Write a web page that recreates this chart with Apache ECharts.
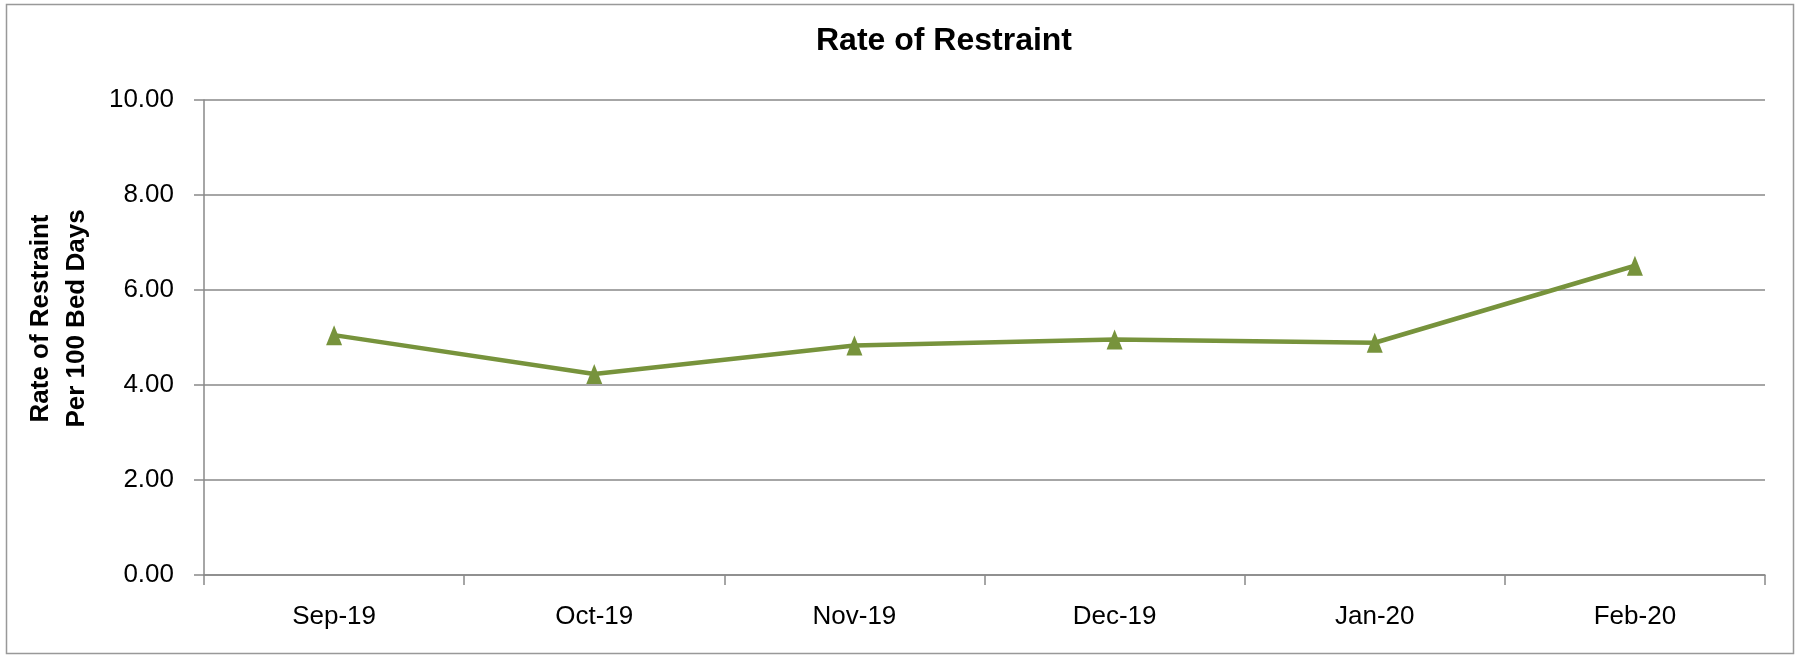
<!DOCTYPE html>
<html>
<head>
<meta charset="utf-8">
<script src="https://cdn.jsdelivr.net/npm/echarts@6/dist/echarts.min.js"></script>
<style>
html,body{margin:0;padding:0;background:#fff;}
#chart{width:1795px;height:655px;}
</style>
</head>
<body>
<div id="chart"></div>
<script>
const categories = ['Sep-19', 'Oct-19', 'Nov-19', 'Dec-19', 'Jan-20', 'Feb-20'];
const rateValues = [5.05, 4.23, 4.83, 4.96, 4.89, 6.51];
const yTicks = { min: 0, max: 10, interval: 2 };

const chart = echarts.init(document.getElementById('chart'));
const font = '"Liberation Sans", Arial, sans-serif';
const gray = '#898989';
chart.setOption({
  animation: false,
  backgroundColor: '#fff',
  title: {
    text: 'Rate of Restraint',
    left: 939, top: 20, textAlign: 'center',
    textStyle: { fontFamily: font, fontWeight: 'bold', fontSize: 32, color: '#000' }
  },
  graphic: [{
    type: 'rect', silent: true,
    shape: { x: 6.5, y: 4.5, width: 1787, height: 649 },
    style: { fill: 'none', stroke: '#999', lineWidth: 1.5 }
  }],
  grid: { left: 204, right: 30, top: 100, bottom: 80, containLabel: false },
  xAxis: {
    type: 'category',
    data: categories,
    boundaryGap: true,
    axisLine: { show: true, lineStyle: { color: gray, width: 1.5 } },
    axisTick: { show: true, length: 10, alignWithLabel: false, lineStyle: { color: gray, width: 1.5 } },
    axisLabel: { margin: 29, fontFamily: font, fontSize: 26, color: '#000' },
    splitLine: { show: false }
  },
  yAxis: {
    type: 'value',
    min: yTicks.min, max: yTicks.max, interval: yTicks.interval,
    name: 'Rate of Restraint\nPer 100 Bed Days',
    nameLocation: 'middle',
    nameGap: 109,
    nameRotate: 90,
    nameTextStyle: { fontFamily: font, fontWeight: 'bold', fontSize: 26, color: '#000', lineHeight: 36, padding: [0, 0, 0, 38] },
    axisLine: { show: true, lineStyle: { color: gray, width: 1.5 } },
    axisTick: { show: true, length: 10, lineStyle: { color: gray, width: 1.5 } },
    axisLabel: { margin: 30, fontFamily: font, fontSize: 26, color: '#000', formatter: v => v.toFixed(2) },
    splitLine: { show: true, lineStyle: { color: gray, width: 1.5 } }
  },
  series: [{
    type: 'line',
    data: rateValues,
    symbol: 'triangle',
    symbolSize: [16, 20],
    lineStyle: { color: '#77933C', width: 4.5 },
    itemStyle: { color: '#77933C' },
    z: 5
  }]
});
</script>
</body>
</html>
